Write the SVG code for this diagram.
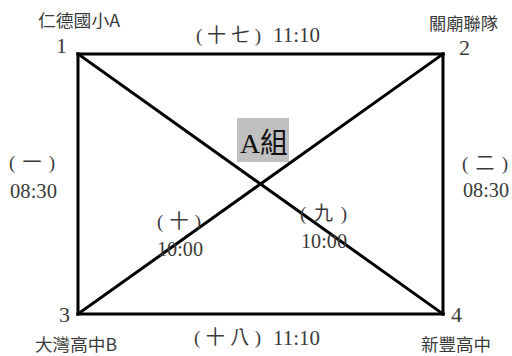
<svg xmlns="http://www.w3.org/2000/svg" width="512" height="356" viewBox="0 0 512 356">
<style>
.ln{stroke:#000;stroke-width:3;fill:none;stroke-linecap:square}
.cj{font-family:"Noto Sans CJK TC","Noto Sans CJK SC",sans-serif;font-size:17px;fill:#3a3a3a}
.pn{font-family:"Liberation Serif","Noto Sans CJK TC",serif;font-size:19px;fill:#3a3a3a}
.num{font-family:"Liberation Serif","Noto Sans CJK TC",serif;font-size:22px;fill:#3a3a3a}
.tm{font-family:"Liberation Serif",serif;font-size:22px;fill:#3a3a3a}
.ttl{font-family:"Liberation Serif","Noto Sans CJK TC",serif;font-size:28px;fill:#111}
</style>
<rect width="512" height="356" fill="#fff"/>
<g id="connectors">
<line class="ln" x1="78" y1="54" x2="443" y2="54"/>
<line class="ln" x1="78" y1="314" x2="443" y2="314"/>
<line class="ln" x1="78" y1="54" x2="78" y2="314"/>
<line class="ln" x1="443" y1="54" x2="443" y2="314"/>
<line class="ln" x1="78" y1="54" x2="443" y2="314"/>
<line class="ln" x1="78" y1="314" x2="443" y2="54"/>
</g>
<g id="edge-labels">
<text class="pn" x="196" y="42" textLength="65" lengthAdjust="spacing">(十七)</text>
<text class="tm" x="273" y="42" textLength="47" lengthAdjust="spacingAndGlyphs">11:10</text>
<text class="pn" x="194" y="344" textLength="67" lengthAdjust="spacing">(十八)</text>
<text class="tm" x="273" y="345" textLength="47" lengthAdjust="spacingAndGlyphs">11:10</text>
<text class="pn" x="9" y="169" textLength="46" lengthAdjust="spacing">(一)</text>
<text class="tm" x="10" y="198" textLength="47" lengthAdjust="spacingAndGlyphs">08:30</text>
<text class="pn" x="462" y="170" textLength="46" lengthAdjust="spacing">(二)</text>
<text class="tm" x="463" y="197" textLength="46" lengthAdjust="spacingAndGlyphs">08:30</text>
<text class="pn" x="157" y="228" textLength="44" lengthAdjust="spacing">(十)</text>
<text class="tm" x="157" y="256" textLength="46" lengthAdjust="spacingAndGlyphs">10:00</text>
<text class="pn" x="300" y="220" textLength="47" lengthAdjust="spacing">(九)</text>
<text class="tm" x="301" y="248" textLength="46" lengthAdjust="spacingAndGlyphs">10:00</text>
</g>
<g id="title">
<rect x="237" y="118" width="52" height="44" fill="#c0c0c0"/>
<text class="ttl" x="240" y="153" textLength="48" lengthAdjust="spacingAndGlyphs">A組</text>
</g>
<g id="node1">
<text class="cj" x="38" y="27" textLength="82" lengthAdjust="spacingAndGlyphs">仁德國小A</text>
<text class="num" x="56" y="53">1</text>
</g>
<g id="node2">
<text class="cj" x="429" y="30" textLength="69" lengthAdjust="spacingAndGlyphs">關廟聯隊</text>
<text class="num" x="459" y="55">2</text>
</g>
<g id="node3">
<text class="num" x="59" y="322">3</text>
<text class="cj" x="35" y="351" textLength="82" lengthAdjust="spacingAndGlyphs">大灣高中B</text>
</g>
<g id="node4">
<text class="num" x="451" y="322">4</text>
<text class="cj" x="421" y="351" textLength="70" lengthAdjust="spacingAndGlyphs">新豐高中</text>
</g>
</svg>
